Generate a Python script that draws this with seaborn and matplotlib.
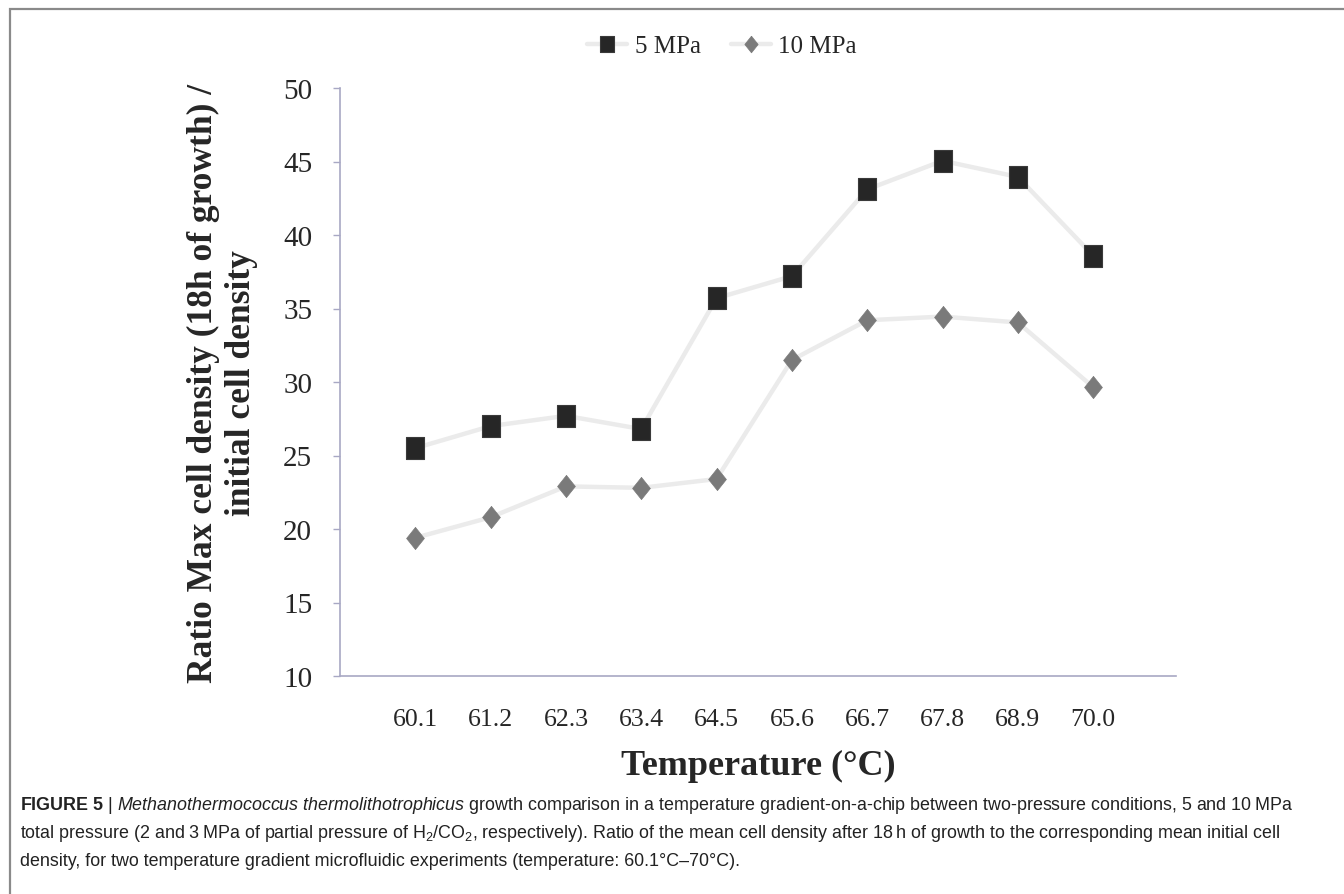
import matplotlib as mpl
mpl.use('agg')
import matplotlib.pyplot as plt
from matplotlib.patches import Rectangle
import numpy as np
import pandas as pd
import seaborn as sns

# data
temps = ['60.1', '61.2', '62.3', '63.4', '64.5', '65.6', '66.7', '67.8', '68.9', '70.0']
ratio_5mpa = [25.5, 27.0, 27.7, 26.8, 35.7, 37.2, 43.1, 45.05, 43.95, 38.6]
ratio_10mpa = [19.4, 20.8, 22.9, 22.8, 23.4, 31.5, 34.2, 34.45, 34.05, 29.65]
y_ticks = [10, 15, 20, 25, 30, 35, 40, 45, 50]

df = pd.DataFrame({'pos': np.arange(len(temps)), 'temp': temps,
                   '5 MPa': ratio_5mpa, '10 MPa': ratio_10mpa})

sns.set_style('white')
plt.rcParams['font.family'] = ['Liberation Serif', 'DejaVu Serif']
plt.rcParams['mathtext.fontset'] = 'custom'
plt.rcParams['mathtext.rm'] = 'Liberation Sans'
plt.rcParams['mathtext.it'] = 'Liberation Sans:italic'
plt.rcParams['mathtext.bf'] = 'Liberation Sans:bold'

fig = plt.figure(figsize=(13.44, 8.95), dpi=100)
ax = fig.add_axes([340/1344, 1 - 677/895, (1176 - 340)/1344, (677 - 89)/895])

# slightly tall markers, like the stretched excel export
square = [(-0.8, -1), (0.8, -1), (0.8, 1), (-0.8, 1), (-0.8, -1)]
diamond = [(0, 1), (0.8, 0), (0, -1), (-0.8, 0), (0, 1)]

line_color = '#ebebeb'
sns.lineplot(data=df, x='pos', y='5 MPa', ax=ax, color=line_color, linewidth=3.2,
             marker=square, markersize=16, markerfacecolor='#262626',
             markeredgecolor='#3a3a3a', markeredgewidth=0.8, label='5 MPa')
sns.lineplot(data=df, x='pos', y='10 MPa', ax=ax, color=line_color, linewidth=3.2,
             marker=diamond, markersize=16, markerfacecolor='#7a7a7a',
             markeredgecolor='#7a7a7a', markeredgewidth=0.5, label='10 MPa')

# axes
ax.set_xlim(-1, 10.1)
ax.set_ylim(10, 50)
ax.set_xticks(df['pos'])
ax.set_xticklabels(temps)
ax.set_xticks(np.arange(-1, len(temps), 2), minor=True)
ax.set_yticks(y_ticks)
ax.tick_params(axis='x', which='major', length=0, pad=23, labelsize=18.5)
ax.tick_params(axis='x', which='minor', length=5, width=1, color='#a8a8c4', direction='out')
ax.tick_params(axis='y', length=5, width=1, color='#a8a8c4', pad=15, labelsize=21, left=True)
for side in ['top', 'right']:
    ax.spines[side].set_visible(False)
for side in ['left', 'bottom']:
    ax.spines[side].set_color('#a8a8c4')
    ax.spines[side].set_linewidth(1.2)

ax.set_xlabel('Temperature (°C)', fontsize=26, fontweight='bold', labelpad=14)
ax.set_ylabel('Ratio Max cell density (18h of growth) /\ninitial cell density',
              fontsize=25.5, fontweight='bold', labelpad=18, linespacing=1.2)

# legend
leg = ax.legend(loc='center', bbox_to_anchor=(722/1344, 1 - 47/895),
                bbox_transform=fig.transFigure, ncol=2, frameon=False,
                fontsize=18, handlelength=1.6, columnspacing=1.2, handletextpad=0.3,
                markerscale=0.75)

# outer frame of the figure page
fig.patches.append(Rectangle((10/1344, -0.1), 1.2, 1.1 - 10/895, transform=fig.transFigure,
                             fill=False, edgecolor='#8a8a8a', linewidth=1.6))

# caption
caption = [
    r'$\mathbf{FIGURE\ 5}$ | $\mathit{Methanothermococcus\ thermolithotrophicus}$ growth comparison in a temperature gradient-on-a-chip between two-pressure conditions, 5 and 10' + '\u2009' + 'MPa',
    'total pressure (2 and 3\u2009MPa of partial pressure of H$_2$/CO$_2$, respectively). Ratio of the mean cell density after 18\u2009h of growth to the corresponding mean initial cell',
    'density, for two temperature gradient microfluidic experiments (temperature: 60.1°C–70°C).',
]
for k, line in enumerate(caption):
    fig.text(20/1344, 1 - (806 + 28*k)/895, line, fontsize=12.9, va='center', ha='left',
             family=['Liberation Sans', 'DejaVu Sans'], color='#222222')

plt.savefig('out.png', dpi=100)
